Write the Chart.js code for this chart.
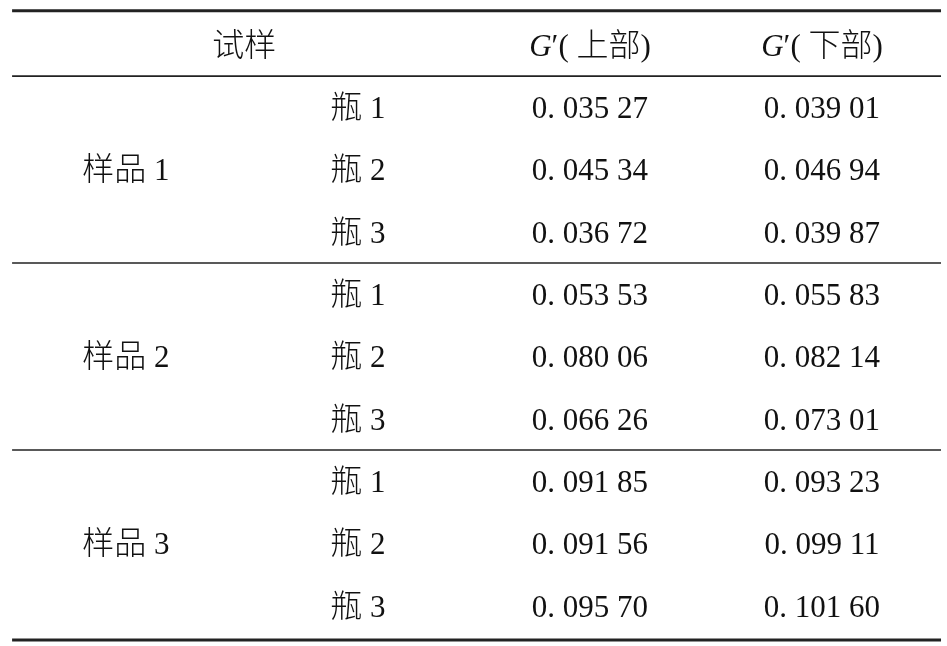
<!DOCTYPE html>
<html>
<head>
    <meta charset="utf-8">
    <script src="https://cdn.jsdelivr.net/npm/chart.js@4"></script>
    <style>
        html, body { margin: 0; padding: 0; background: #fff; }
    </style>
</head>
<body>
    <canvas id="myChart" width="947" height="646"></canvas>
    <script>
        // table content
        const headers = ['试样', 'G′( 上部)', 'G′( 下部)'];
        const samples = ['样品 1', '样品 2', '样品 3'];
        const bottles = ['瓶 1', '瓶 2', '瓶 3'];
        const upper = [0.03527, 0.04534, 0.03672, 0.05353, 0.08006, 0.06626, 0.09185, 0.09156, 0.09570];
        const lower = [0.03901, 0.04694, 0.03987, 0.05583, 0.08214, 0.07301, 0.09323, 0.09911, 0.10160];

        const SERIF = "'Liberation Serif', 'DejaVu Serif', serif";
        const CJK = "'Noto Sans CJK SC', sans-serif";

        // 0.03527 -> "0. 035 27"
        function fmt(v) {
            var s = v.toFixed(5).split('.');
            return s[0] + '. ' + s[1].slice(0, 3) + ' ' + s[1].slice(3);
        }

        // split a string into runs with their own font
        function runsOf(text, size) {
            var runs = [];
            for (const ch of text) {
                var font;
                if (/[\u3400-\u9fff]/.test(ch)) font = '300 ' + (size + 1) + 'px ' + CJK;
                else if (ch === 'G') font = 'italic ' + size + 'px ' + SERIF;
                else font = size + 'px ' + SERIF;
                var last = runs[runs.length - 1];
                if (last && last.font === font) last.t += ch;
                else runs.push({ t: ch, font: font });
            }
            return runs;
        }

        function drawText(ctx, text, cx, cy, size) {
            var runs = runsOf(text, size);
            var total = 0;
            runs.forEach(r => {
                ctx.font = r.font;
                r.w = ctx.measureText(r.t).width;
                total += r.w;
            });
            var x = cx - total / 2;
            ctx.textBaseline = 'alphabetic';
            ctx.textAlign = 'left';
            runs.forEach(r => {
                ctx.font = r.font;
                ctx.fillText(r.t, x, cy + size * 0.35);
                x += r.w;
            });
        }

        // cells: x = column, y = row (header row 0, data rows 1..9)
        const cells = [];
        cells.push({ x: 0.51, y: 0, t: headers[0] });
        cells.push({ x: 2, y: 0, t: headers[1] });
        cells.push({ x: 3, y: 0, t: headers[2] });
        samples.forEach((s, i) => cells.push({ x: 0, y: 2 + i * 3, t: s }));
        upper.forEach((v, i) => {
            cells.push({ x: 1, y: i + 1, t: bottles[i % 3] });
            cells.push({ x: 2, y: i + 1, t: fmt(v) });
            cells.push({ x: 3, y: i + 1, t: fmt(lower[i]) });
        });

        // horizontal rules, in row units
        const rules = [
            { y: -0.55, w: 3 },
            { y: 0.5, w: 1.6 },
            { y: 3.5, w: 1.6 },
            { y: 6.5, w: 1.6 },
            { y: 9.55, w: 3 }
        ];

        const tablePlugin = {
            id: 'tablePlugin',
            afterDraw(chart) {
                const ctx = chart.ctx;
                const xs = chart.scales.x, ys = chart.scales.y;
                ctx.save();
                rules.forEach(r => {
                    var py = ys.getPixelForValue(r.y);
                    ctx.beginPath();
                    ctx.lineWidth = r.w;
                    ctx.strokeStyle = '#222';
                    ctx.moveTo(xs.getPixelForValue(-0.491), py);
                    ctx.lineTo(xs.getPixelForValue(3.513), py);
                    ctx.stroke();
                });
                ctx.fillStyle = '#111';
                cells.forEach(c => {
                    drawText(ctx, c.t, xs.getPixelForValue(c.x), ys.getPixelForValue(c.y), 31);
                });
                ctx.restore();
            }
        };

        const data = {
            datasets: [{
                data: cells.map(c => ({ x: c.x, y: c.y })),
                pointRadius: 0,
                showLine: false
            }]
        };

        const config = {
            type: 'scatter',
            data: data,
            options: {
                responsive: false,
                animation: false,
                devicePixelRatio: 1,
                layout: { padding: 0 },
                plugins: { legend: { display: false }, tooltip: { enabled: false } },
                scales: {
                    x: { type: 'linear', display: false, min: -0.5431, max: 3.5388 },
                    y: { type: 'linear', display: false, reverse: true, min: -0.7223, max: 9.6469 }
                }
            },
            plugins: [tablePlugin]
        };

        const myChart = new Chart(document.getElementById('myChart'), config);
    </script>
</body>
</html>
